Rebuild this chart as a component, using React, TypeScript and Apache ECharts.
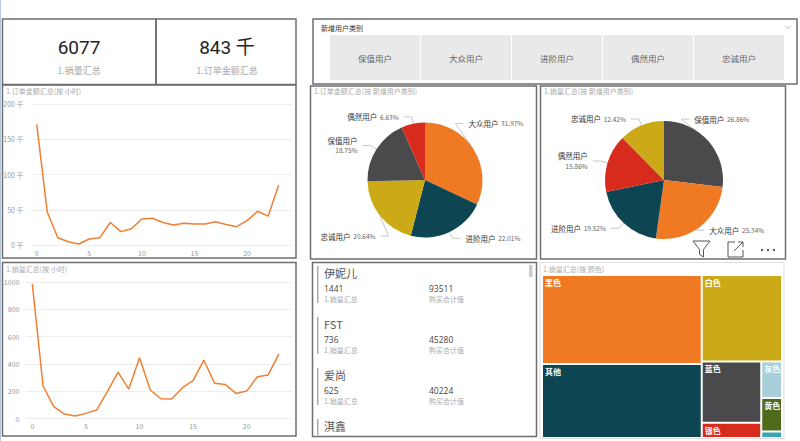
import React, { useEffect, useRef } from 'react';
import * as echarts from 'echarts';

// ---------- data ----------
const hours = [0, 1, 2, 3, 4, 5, 6, 7, 8, 9, 10, 11, 12, 13, 14, 15, 16, 17, 18, 19, 20, 21, 22, 23];
const hourTicks = [0, 5, 10, 15, 20];
// 1.订单金额汇总 (千)
const amountByHour = [171.5, 47, 10.4, 4.7, 1.4, 8.5, 10.4, 32, 19, 23, 37, 38, 32, 28.4, 31, 30, 30, 33, 29, 26, 34.6, 48, 41, 85];
// 1.销量汇总
const salesByHour = [985, 239, 88, 34, 20, 39, 63, 198, 341, 217, 446, 210, 146, 144, 227, 278, 429, 259, 251, 185, 202, 307, 320, 473];

const userTypes = ['保值用户', '大众用户', '进阶用户', '偶然用户', '忠诚用户'];
const amountShareNames = ['大众用户', '进阶用户', '忠诚用户', '保值用户', '偶然用户'];
const amountShare = [31.97, 22.01, 20.64, 18.75, 6.63];
const salesShareNames = ['保值用户', '大众用户', '进阶用户', '偶然用户', '忠诚用户'];
const salesShare = [26.86, 25.34, 19.52, 15.86, 12.42];

const colorNames = ['黑色', '其他', '白色', '蓝色', '银色', '灰色', '黄色', '青色'];
const colorSales = [2210, 1835, 1077, 567, 141, 118, 108, 21];

const kpiSales = '6077';
const kpiAmount = '843 千';

const brands = ['伊妮儿', 'FST', '爱尚', '淇鑫'];
const brandSales = [1441, 736, 625];
const brandPurchase = [93511, 45280, 40224];

// ---------- styles ----------
const ORANGE = '#F07A24';
const TEAL = '#0D4553';
const GOLD = '#CCA916';
const DGRAY = '#4A4A4C';
const RED = '#D72B1E';
const typeColor: Record<string, string> = {
  '大众用户': ORANGE,
  '进阶用户': TEAL,
  '忠诚用户': GOLD,
  '保值用户': DGRAY,
  '偶然用户': RED,
};
const treeColors = [ORANGE, TEAL, GOLD, DGRAY, RED, '#A8D0DB', '#4E6A1A', '#3BA3B6'];
const CJK = '"Noto Sans CJK SC", "Noto Sans", sans-serif';
const LINE_COLOR = '#EE7F33';
const BORDER = '#6E6E6E';

// label nudges (layout only) per pie, by data index
const pie1Nudge: Record<number, [number, number]> = { 0: [-24, -22], 2: [14, 16] };
const pie2Nudge: Record<number, [number, number]> = { 0: [-32, -17], 1: [-8, -2] };

function boxRect(x: number, y: number, w: number, h: number, color = BORDER, lw = 1.5) {
  return { type: 'rect', shape: { x, y, width: w, height: h }, style: { fill: 'none', stroke: color, lineWidth: lw }, silent: true, z: 10 };
}
function txt(text: string, x: number, y: number, size: number, fill: string, align = 'left', family = CJK, weight = 'normal') {
  return {
    type: 'text',
    style: { text, x, y, fill, font: `${weight} ${size}px ${family}`, textAlign: align, textVerticalAlign: 'middle' },
    silent: true,
    z: 11,
  };
}

function pieLabel(twoLine: string[]) {
  return {
    show: true,
    formatter: (p: any) =>
      twoLine.includes(p.name) ? `{n|${p.name}}\n{p|${p.value}%}` : `{n|${p.name}} {p|${p.value}%}`,
    rich: {
      n: { fontSize: 7.5, color: '#333', fontFamily: CJK, lineHeight: 10 },
      p: { fontSize: 6.5, color: '#666', fontFamily: CJK, lineHeight: 10 },
    },
  };
}

function nudger(map: Record<number, [number, number]>) {
  return (params: any) => {
    const d = map[params.dataIndex];
    if (!d) return {};
    const pts = params.labelLinePoints;
    const out: any = { x: params.labelRect.x + d[0], y: params.labelRect.y + d[1], align: 'left', verticalAlign: 'top' };
    if (pts && pts.length === 3) {
      out.labelLinePoints = [
        pts[0],
        [pts[1][0] + d[0], pts[1][1] + d[1]],
        [pts[2][0] + d[0], pts[2][1] + d[1]],
      ];
    }
    return out;
  };
}

export default function App() {
  const ref = useRef<HTMLDivElement>(null);
  useEffect(() => {
    if (!ref.current) return;
    const chart = echarts.init(ref.current, null, { renderer: 'svg' });

    const graphics: any[] = [];
    graphics.push({ type: 'line', shape: { x1: 0.5, y1: 0, x2: 0.5, y2: 441 }, style: { stroke: '#B5C7DA', lineWidth: 1 }, silent: true });
    graphics.push(boxRect(2.5, 19, 153.5, 65.5));
    graphics.push(boxRect(156, 19, 140, 65.5));
    graphics.push(boxRect(2.5, 85, 293.5, 173));
    graphics.push(boxRect(2.5, 262.5, 293.5, 173.5));
    graphics.push(boxRect(313, 19, 484, 65));
    graphics.push(boxRect(310.5, 86, 226, 173));
    graphics.push(boxRect(540.5, 86, 245, 173));
    graphics.push(boxRect(312.5, 262.5, 224, 174));
    graphics.push(boxRect(540, 262.5, 244, 176, '#DDDDDD', 1));

    // KPI cards
    graphics.push(txt(kpiSales, 79, 47, 19, '#252423', 'center', 'Roboto, "DejaVu Sans", sans-serif'));
    graphics.push(txt('1.销量汇总', 79, 70, 9, '#AAAAAA', 'center'));
    graphics.push(txt(kpiAmount, 227, 47, 19, '#252423', 'center', 'Roboto, "Noto Sans CJK SC", sans-serif'));
    graphics.push(txt('1.订单金额汇总', 227, 70, 9, '#AAAAAA', 'center'));

    // slicer
    graphics.push(txt('新增用户类别', 321, 28, 7, '#333333'));
    graphics.push({
      type: 'polyline', shape: { points: [[785.5, 26], [788, 28.5], [790.5, 26]] },
      style: { fill: 'none', stroke: '#BBBBBB', lineWidth: 1 }, silent: true, z: 12,
    });
    userTypes.forEach((t, i) => {
      const bx = 330 + i * 91;
      graphics.push({ type: 'rect', shape: { x: bx, y: 35, width: 90, height: 45 }, style: { fill: '#E9E9E9' }, silent: true });
      graphics.push(txt(t, bx + 45, 57.5, 8.5, '#666666', 'center'));
    });

    // chart titles
    graphics.push(txt('1.订单金额汇总(按 小时)', 6, 91, 7, '#ABABAB'));
    graphics.push(txt('1.销量汇总(按 小时)', 6, 269, 7, '#ABABAB'));
    graphics.push(txt('1.订单金额汇总(按 新增用户类别)', 314, 91, 7, '#ABABAB'));
    graphics.push(txt('1.销量汇总(按 新增用户类别)', 544, 91, 7, '#ABABAB'));
    graphics.push(txt('1.销量汇总(按 颜色)', 543, 269, 7, '#ABABAB'));

    // pie 2 toolbar icons
    graphics.push({
      type: 'polygon',
      shape: { points: [[693, 241], [710, 241], [703.5, 249.5], [703.5, 257], [699.5, 254.5], [699.5, 249.5]] },
      style: { fill: 'none', stroke: '#555', lineWidth: 1 },
      silent: true, z: 12,
    });
    graphics.push({
      type: 'polyline',
      shape: { points: [[735, 242], [728, 242], [728, 257], [743, 257], [743, 250]] },
      style: { fill: 'none', stroke: '#555', lineWidth: 1 }, silent: true, z: 12,
    });
    graphics.push({ type: 'line', shape: { x1: 734, y1: 251, x2: 743, y2: 242 }, style: { stroke: '#555', lineWidth: 1 }, silent: true, z: 12 });
    graphics.push({ type: 'polyline', shape: { points: [[738, 242], [743, 242], [743, 247]] }, style: { fill: 'none', stroke: '#555', lineWidth: 1 }, silent: true, z: 12 });
    [762, 768, 774].forEach((cx) => {
      graphics.push({ type: 'circle', shape: { cx, cy: 250, r: 1.2 }, style: { fill: '#555' }, silent: true, z: 12 });
    });

    // card list
    brands.forEach((b, i) => {
      const y0 = 273 + i * 51;
      const barH = i < 3 ? 37 : 16;
      graphics.push({ type: 'rect', shape: { x: 317, y: y0 - 7, width: 1.5, height: barH }, style: { fill: '#AAAAAA' }, silent: true });
      graphics.push(txt(b, 324, y0, 11, '#555555'));
      if (i < 3) {
        graphics.push(txt(String(brandSales[i]), 324, y0 + 15, 8.5, '#444444', 'left', '"Open Sans", sans-serif'));
        graphics.push(txt('1.销量汇总', 324, y0 + 26, 7, '#AAAAAA'));
        graphics.push(txt(String(brandPurchase[i]), 429, y0 + 15, 8.5, '#444444', 'left', '"Open Sans", sans-serif'));
        graphics.push(txt('购买合计值', 429, y0 + 26, 7, '#AAAAAA'));
      }
    });
    graphics.push({ type: 'rect', shape: { x: 529, y: 265, width: 3.5, height: 12 }, style: { fill: '#CCCCCC' }, silent: true });

    const axisLabelStyle = { fontSize: 7, color: '#999999', fontFamily: CJK };

    const option: any = {
      animation: false,
      backgroundColor: '#FFFFFF',
      textStyle: { fontFamily: CJK },
      grid: [
        { left: 32, right: 800 - 293, top: 104.3, bottom: 441 - 245 },
        { left: 25.9, right: 800 - 293, top: 282, bottom: 441 - 418.7 },
      ],
      xAxis: [
        {
          type: 'value', gridIndex: 0, min: -0.45, max: 24.37,
          splitLine: { show: false }, axisLine: { show: false }, axisTick: { show: false },
          axisLabel: { ...axisLabelStyle, customValues: hourTicks, margin: 4 },
        },
        {
          type: 'value', gridIndex: 1, min: -0.6, max: 24.32,
          splitLine: { show: false }, axisLine: { show: false }, axisTick: { show: false },
          axisLabel: { ...axisLabelStyle, customValues: hourTicks, margin: 4 },
        },
      ],
      yAxis: [
        {
          type: 'value', gridIndex: 0, min: 0, max: 200, interval: 50,
          axisLine: { show: false }, axisTick: { show: false },
          axisLabel: { ...axisLabelStyle, margin: 8.5, formatter: (v: number) => `${v} 千` },
          splitLine: { lineStyle: { color: '#EEEEEE', width: 1 } },
        },
        {
          type: 'value', gridIndex: 1, min: 0, max: 1000, interval: 200,
          axisLine: { show: false }, axisTick: { show: false },
          axisLabel: { ...axisLabelStyle, margin: 6.5, formatter: (v: number) => String(v) },
          splitLine: { lineStyle: { color: '#EEEEEE', width: 1 } },
        },
      ],
      series: [
        {
          type: 'line', xAxisIndex: 0, yAxisIndex: 0,
          data: hours.map((h, i) => [h, amountByHour[i]]),
          showSymbol: false, lineStyle: { color: LINE_COLOR, width: 1.5 }, itemStyle: { color: LINE_COLOR },
        },
        {
          type: 'line', xAxisIndex: 1, yAxisIndex: 1,
          data: hours.map((h, i) => [h, salesByHour[i]]),
          showSymbol: false, lineStyle: { color: LINE_COLOR, width: 1.5 }, itemStyle: { color: LINE_COLOR },
        },
        {
          type: 'pie', center: [425, 180], radius: 57.5, startAngle: 90, clockwise: true,
          avoidLabelOverlap: true,
          data: amountShareNames.map((n, i) => ({ name: n, value: amountShare[i], itemStyle: { color: typeColor[n] } })),
          label: pieLabel(['保值用户']),
          labelLine: { show: true, length: 7, length2: 8, lineStyle: { color: '#C8C8C8', width: 1 } },
          labelLayout: nudger(pie1Nudge),
          itemStyle: { borderWidth: 0 },
        },
        {
          type: 'pie', center: [664, 180], radius: 59, startAngle: 90, clockwise: true,
          avoidLabelOverlap: true,
          data: salesShareNames.map((n, i) => ({ name: n, value: salesShare[i], itemStyle: { color: typeColor[n] } })),
          label: pieLabel(['偶然用户']),
          labelLine: { show: true, length: 7, length2: 8, lineStyle: { color: '#C8C8C8', width: 1 } },
          labelLayout: nudger(pie2Nudge),
          itemStyle: { borderWidth: 0 },
        },
        {
          type: 'treemap', left: 543, top: 276, width: 238, height: 161,
          roam: false, nodeClick: false, breadcrumb: { show: false },
          data: colorNames.map((n, i) => ({ name: n, value: colorSales[i], itemStyle: { color: treeColors[i] } })),
          label: {
            show: true, position: 'insideTopLeft', fontSize: 8, fontWeight: 'bold', color: '#FFFFFF',
            fontFamily: CJK, overflow: 'truncate', ellipsis: '...', distance: 2, lineHeight: 9, padding: [0, 1, 0, 0],
          },
          upperLabel: { show: false },
          itemStyle: { borderWidth: 0, gapWidth: 2, borderColor: '#FFFFFF' },
          levels: [{ itemStyle: { borderWidth: 0, gapWidth: 2, borderColor: '#FFFFFF' } }],
        },
      ],
      graphic: graphics,
    };
    chart.setOption(option);
    return () => chart.dispose();
  }, []);
  return (
    <div
      ref={ref}
      style={{ position: 'absolute', left: 0, top: 0, width: 800, height: 441, background: '#fff' }}
    />
  );
}
